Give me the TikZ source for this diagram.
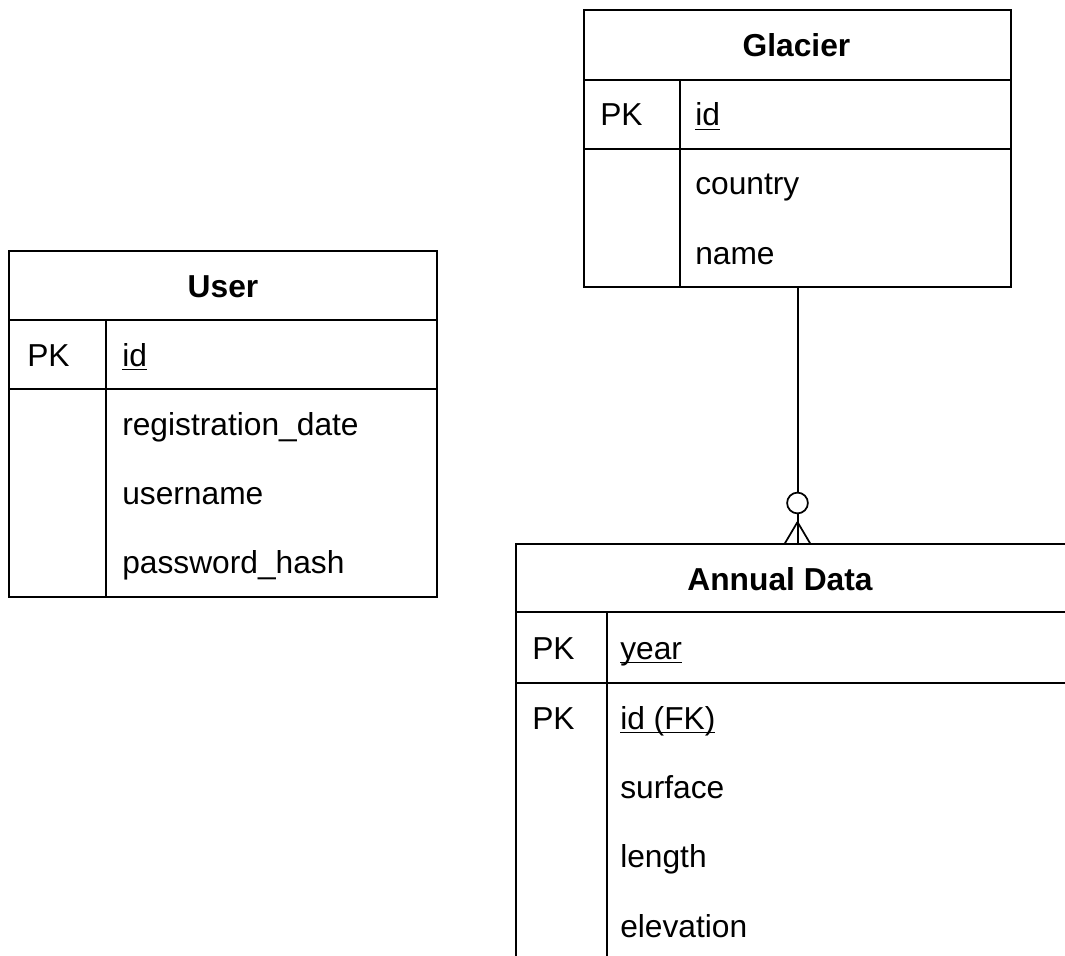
\documentclass[tikz,border=0pt]{standalone}
\usepackage{fontspec}
\setmainfont{Liberation Sans}
\usetikzlibrary{calc}
\newcommand\ulfield[1]{\setbox0=\hbox{#1}\rlap{\rule[-0.14em]{\wd0}{0.055em}}\box0}
\begin{document}
\begin{tikzpicture}[x=0.75pt,y=-0.75pt,
  frame/.style={draw=black, line width=1.5pt, rectangle, inner sep=0pt, outer sep=0pt, anchor=north west},
  rule/.style={draw=black, line width=1.5pt},
  title/.style={font=\fontsize{23.8}{28}\selectfont\bfseries, anchor=base, inner sep=0pt},
  cell/.style={font=\fontsize{23.8}{28}\selectfont, anchor=base west, inner sep=0pt},
]
\useasboundingbox (0,0) rectangle (1065,956);
\clip (0,0) rectangle (1065,956);

% ---------- User ----------
\node[frame, minimum width={428*0.75pt}, minimum height={346*0.75pt}] (user) at (9,251) {};
\draw[rule] (9,320) -- (437,320);
\draw[rule] (9,389) -- (437,389);
\draw[rule] (106,320) -- (106,597);
\node[title] (userT) at (223,297) {User};
\node[cell] (userK) at (27,366) {PK};
\node[cell] (userF1) at (122,366) {\ulfield{id}};
\node[cell] (userF2) at (122,435) {registration\_date};
\node[cell] (userF3) at (122,504) {username};
\node[cell] (userF4) at (122,573) {password\_hash};

% ---------- Glacier ----------
\node[frame, minimum width={427*0.75pt}, minimum height={277*0.75pt}] (glacier) at (584,10) {};
\draw[rule] (584,80) -- (1011,80);
\draw[rule] (584,149) -- (1011,149);
\draw[rule] (680,80) -- (680,287);
\node[title] (glacierT) at (796.5,57) {Glacier};
\node[cell] (glacierK) at (600,126) {PK};
\node[cell] (glacierF1) at (695,126) {\ulfield{id}};
\node[cell] (glacierF2) at (695,195) {country};
\node[cell] (glacierF3) at (695,264) {name};

% ---------- Annual Data ----------
\node[frame, minimum width={600*0.75pt}, minimum height={500*0.75pt}] (annual) at (516,544) {};
\draw[rule] (516,612) -- (1116,612);
\draw[rule] (516,683) -- (1116,683);
\draw[rule] (607,612) -- (607,1044);
\node[title] (annualT) at (780,590) {Annual Data};
\node[cell] (annualK1) at (532,659) {PK};
\node[cell] (annualF1) at (620,659) {\ulfield{year}};
\node[cell] (annualK2) at (532,729) {PK};
\node[cell] (annualF2) at (620,729) {\ulfield{id (FK)}};
\node[cell] (annualF3) at (620,798) {surface};
\node[cell] (annualF4) at (620,867) {length};
\node[cell] (annualF5) at (620,937) {elevation};

% ---------- connector (one to zero-or-many) ----------
\coordinate (foot) at (glacier.south |- annual.north);
\draw[rule] (glacier.south) -- (foot);
\draw[rule, line width=1.3pt] ($(foot)+(0,-22)$) -- ($(foot)+(-13,0)$);
\draw[rule, line width=1.3pt] ($(foot)+(0,-22)$) -- ($(foot)+(13,0)$);
\draw[rule, line width=1.3pt, fill=white] ($(foot)+(0,-41)$) circle[radius=7.8pt];
\end{tikzpicture}
\end{document}
